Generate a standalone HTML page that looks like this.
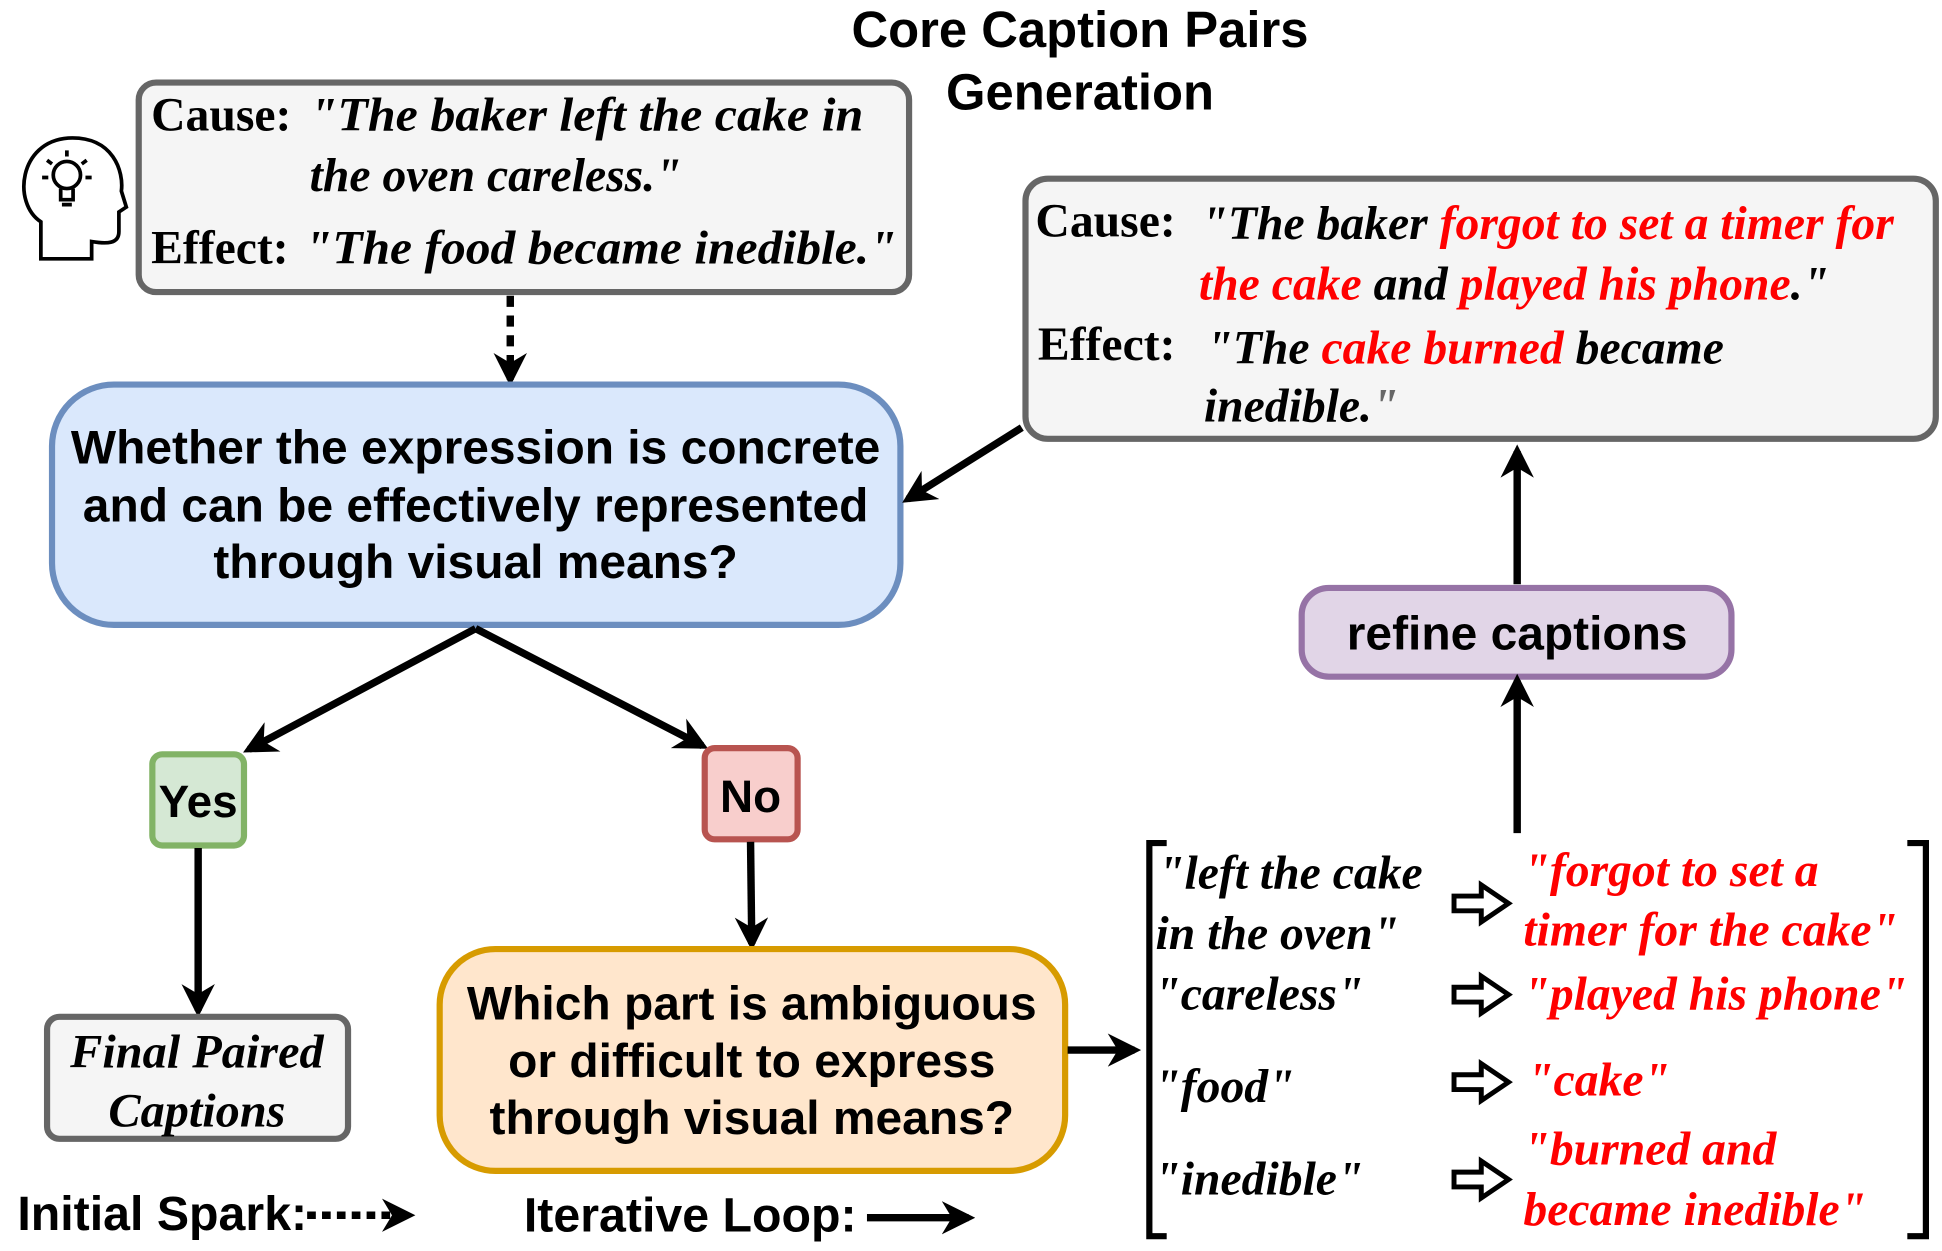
<!DOCTYPE html>
<html><head><meta charset="utf-8"><style>html,body{margin:0;padding:0;background:#fff}svg{display:block}</style></head><body>
<svg width="1942" height="1251" viewBox="0 0 1568 1015" preserveAspectRatio="none" xmlns="http://www.w3.org/2000/svg">
<defs>
<marker id="ah" viewBox="0 0 10 10" refX="8" refY="5" markerWidth="4.5" markerHeight="4.5" orient="auto" markerUnits="strokeWidth"><path d="M0,0 L10,5 L0,10 L3,5 z" fill="#000"/></marker>
</defs>
<g font-family="Liberation Sans, sans-serif" font-weight="bold" fill="#000">
<text x="872" y="38" font-size="41" text-anchor="middle">Core Caption Pairs</text>
<text x="872" y="89" font-size="41" text-anchor="middle">Generation</text>
</g>
<g fill="none" stroke="#000" stroke-width="3">
<path d="M33 210 V180 C10 165 15 115 55 112 C92 110 100 140 98 155 L102 168 L96 172 V188 C96 198 86 198 74 196 V210 Z"/>
<circle cx="54" cy="142" r="11"/><path d="M49 153 V162 H59 V153 M50 166 H58"/>
<path d="M54 122 V127 M38 130 L42 133 M70 130 L66 133 M34 144 H39 M69 144 H74"/>
</g>
<rect x="112" y="67" width="622" height="170" rx="14" fill="#f5f5f5" stroke="#666" stroke-width="5"/>
<g font-family="Liberation Serif, serif" font-weight="bold" font-size="38.5" fill="#000">
<text x="122" y="106">Cause:</text>
<text x="250" y="106" font-style="italic" textLength="447" lengthAdjust="spacingAndGlyphs">"The baker left the cake in</text>
<text x="250" y="155" font-style="italic">the oven careless."</text>
<text x="122" y="214">Effect:</text>
<text x="246" y="214" font-style="italic" textLength="478" lengthAdjust="spacingAndGlyphs">"The food became inedible."</text>
</g>
<line x1="412" y1="240" x2="412" y2="308" stroke="#000" stroke-width="6" stroke-dasharray="9,7" marker-end="url(#ah)"/>
<rect x="42" y="312" width="685" height="195" rx="50" fill="#dae8fc" stroke="#6c8ebf" stroke-width="5"/>
<g font-family="Liberation Sans, sans-serif" font-weight="bold" font-size="38.7" text-anchor="middle">
<text x="384" y="376">Whether the expression is concrete</text>
<text x="384" y="423">and can be effectively represented</text>
<text x="384" y="469">through visual means?</text>
</g>
<line x1="825" y1="347" x2="733" y2="405" stroke="#000" stroke-width="6" marker-end="url(#ah)"/>
<rect x="828" y="145" width="735" height="211" rx="18" fill="#f5f5f5" stroke="#666" stroke-width="5"/>
<g font-family="Liberation Serif, serif" font-weight="bold" font-size="38.5" fill="#000">
<text x="836" y="192">Cause:</text>
<text x="970" y="194" font-style="italic">"The baker <tspan fill="#f00">forgot to set a timer for</tspan></text>
<text x="968" y="243" font-style="italic"><tspan fill="#f00">the cake</tspan> and <tspan fill="#f00">played his phone</tspan>."</text>
<text x="838" y="292">Effect:</text>
<text x="974" y="295" font-style="italic">"The <tspan fill="#f00">cake burned</tspan> became</text>
<text x="972" y="342" font-style="italic">inedible.<tspan fill="#666">"</tspan></text>
</g>
<rect x="1051" y="477" width="347" height="72" rx="22" fill="#e1d5e7" stroke="#9673a6" stroke-width="5"/>
<text x="1225" y="527" font-family="Liberation Sans, sans-serif" font-weight="bold" font-size="38.7" text-anchor="middle">refine captions</text>
<line x1="1225" y1="474" x2="1225" y2="366" stroke="#000" stroke-width="6" marker-end="url(#ah)"/>
<line x1="1225" y1="676" x2="1225" y2="552" stroke="#000" stroke-width="6" marker-end="url(#ah)"/>
<line x1="384" y1="510" x2="201" y2="608" stroke="#000" stroke-width="6" marker-end="url(#ah)"/>
<line x1="384" y1="510" x2="567" y2="605" stroke="#000" stroke-width="6" marker-end="url(#ah)"/>
<rect x="123" y="612" width="74" height="74" rx="8" fill="#d5e8d4" stroke="#82b366" stroke-width="5"/>
<rect x="569" y="607" width="75" height="74" rx="8" fill="#f8cecc" stroke="#b85450" stroke-width="5"/>
<g font-family="Liberation Sans, sans-serif" font-weight="bold" font-size="37" text-anchor="middle">
<text x="160" y="663">Yes</text><text x="606" y="659">No</text>
</g>
<line x1="160" y1="688" x2="160" y2="820" stroke="#000" stroke-width="6" marker-end="url(#ah)"/>
<line x1="606" y1="683" x2="607" y2="766" stroke="#000" stroke-width="6" marker-end="url(#ah)"/>
<rect x="38" y="825" width="243" height="99" rx="10" fill="#f5f5f5" stroke="#666" stroke-width="5"/>
<g font-family="Liberation Serif, serif" font-weight="bold" font-style="italic" font-size="39" text-anchor="middle">
<text x="159" y="866">Final Paired</text><text x="159" y="914">Captions</text>
</g>
<rect x="355" y="770" width="505" height="180" rx="45" fill="#ffe6cc" stroke="#d79b00" stroke-width="5"/>
<g font-family="Liberation Sans, sans-serif" font-weight="bold" font-size="38.7" text-anchor="middle">
<text x="607" y="827">Which part is ambiguous</text>
<text x="607" y="874">or difficult to express</text>
<text x="607" y="920">through visual means?</text>
</g>
<line x1="862" y1="852" x2="916" y2="852" stroke="#000" stroke-width="6" marker-end="url(#ah)"/>
<path d="M942 684 H928 V1003 H942" fill="none" stroke="#000" stroke-width="5"/>
<path d="M1540 684 H1555 V1003 H1540" fill="none" stroke="#000" stroke-width="5"/>
<g font-family="Liberation Serif, serif" font-weight="bold" font-style="italic" font-size="38.5">
<text x="935" y="721">"left the cake</text>
<text x="933" y="770">in the oven"</text>
<text x="932" y="819">"careless"</text>
<text x="932" y="894">"food"</text>
<text x="932" y="969">"inedible"</text>
<g fill="#f00">
<text x="1230" y="719">"forgot to set a</text>
<text x="1230" y="767">timer for the cake"</text>
<text x="1230" y="819">"played his phone"</text>
<text x="1233" y="889">"cake"</text>
<text x="1230" y="945">"burned and</text>
<text x="1230" y="994">became inedible"</text>
</g>
</g>
<g fill="#fff" stroke="#000" stroke-width="4" stroke-linejoin="miter">
<path d="M1174 727 h22 v-9 l22 15 l-22 15 v-9 h-22z"/>
<path d="M1174 801 h22 v-9 l22 15 l-22 15 v-9 h-22z"/>
<path d="M1174 872 h22 v-9 l22 15 l-22 15 v-9 h-22z"/>
<path d="M1174 951 h22 v-9 l22 15 l-22 15 v-9 h-22z"/>
</g>
<g font-family="Liberation Sans, sans-serif" font-weight="bold" font-size="39">
<text x="14" y="998">Initial Spark:</text>
<text x="423" y="999">Iterative Loop:</text>
</g>
<line x1="248" y1="986" x2="330" y2="986" stroke="#000" stroke-width="6" stroke-dasharray="7,5" marker-end="url(#ah)"/>
<line x1="700" y1="988" x2="782" y2="988" stroke="#000" stroke-width="6" marker-end="url(#ah)"/>
</svg>
</body></html>
